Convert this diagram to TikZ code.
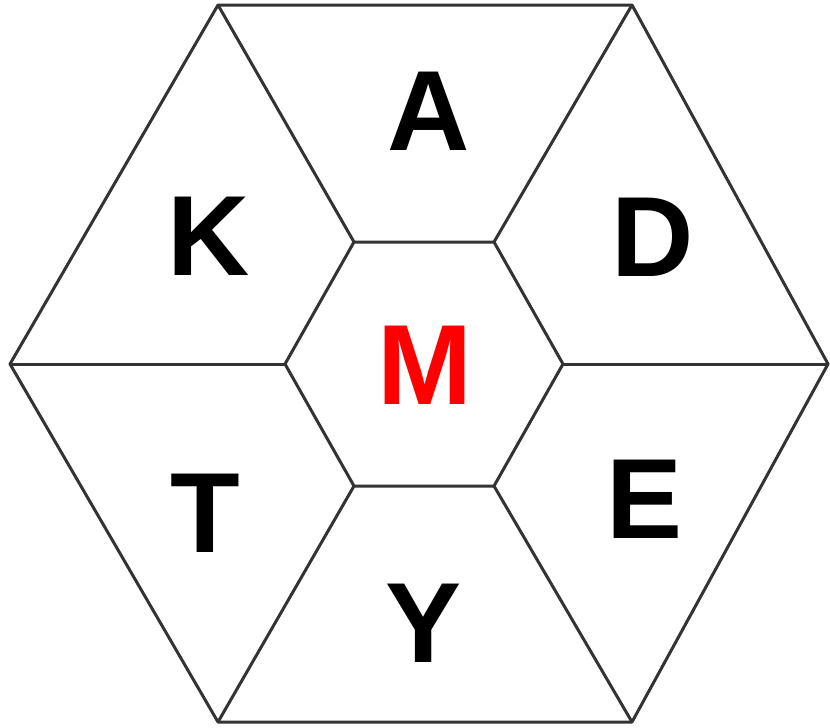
\documentclass[tikz,border=0pt]{standalone}
\usepackage{fontspec}
\setmainfont{Liberation Sans}
\definecolor{edge}{HTML}{333333}
\definecolor{mred}{HTML}{FF0000}
\begin{document}
\begin{tikzpicture}[x=1pt,y=-1pt,
  edgeline/.style={draw=edge,line width=3pt,line join=round},
  letter/.style={anchor=base,inner sep=0pt,font=\fontsize{114}{114}\bfseries\selectfont}]
\useasboundingbox (0,0) rectangle (830,728);
% outer vertices
\coordinate (OL) at (10,364);
\coordinate (OTL) at (218,5);
\coordinate (OTR) at (632,5);
\coordinate (OR) at (828,364);
\coordinate (OBR) at (632,722);
\coordinate (OBL) at (218,722);
% inner vertices
\coordinate (IL) at (285,364);
\coordinate (ITL) at (354,242);
\coordinate (ITR) at (494,242);
\coordinate (IR) at (563,364);
\coordinate (IBR) at (494,486);
\coordinate (IBL) at (354,486);
\draw[edgeline] (OL) -- (OTL) -- (OTR) -- (OR) -- (OBR) -- (OBL) -- cycle;
\draw[edgeline] (IL) -- (ITL) -- (ITR) -- (IR) -- (IBR) -- (IBL) -- cycle;
\draw[edgeline] (OL) -- (IL);
\draw[edgeline] (OTL) -- (ITL);
\draw[edgeline] (OTR) -- (ITR);
\draw[edgeline] (OR) -- (IR);
\draw[edgeline] (OBR) -- (IBR);
\draw[edgeline] (OBL) -- (IBL);
% letters
\node[letter] (A) at (429,150) {A};
\node[letter] (K) at (209,275) {K};
\node[letter] (D) at (653,276) {D};
\node[letter] (T) at (205,552) {T};
\node[letter] (E) at (645,538) {E};
\node[letter] (Y) at (424,662) {Y};
\node[letter,text=mred] (M) at (425,404) {M};
\end{tikzpicture}
\end{document}
